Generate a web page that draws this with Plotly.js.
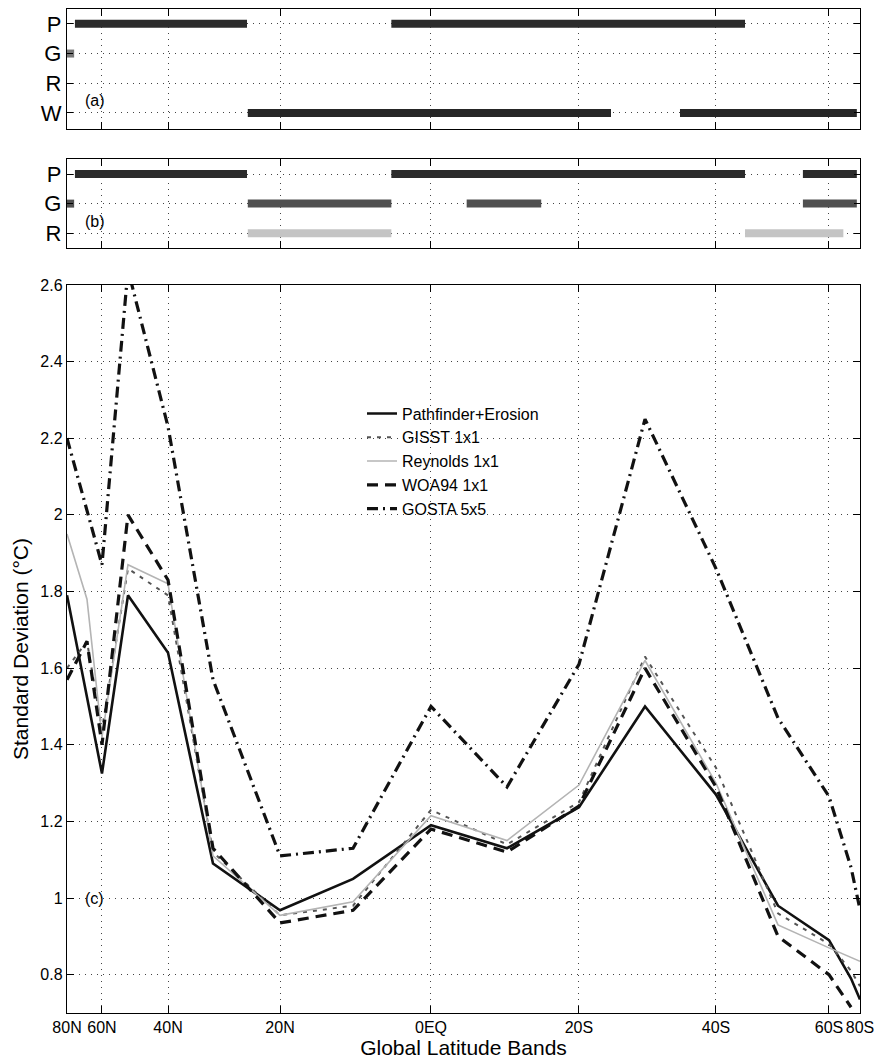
<!DOCTYPE html>
<html>
<head>
<meta charset="utf-8">
<script src="https://cdn.plot.ly/plotly-3.0.1.min.js"></script>
<style>html,body{margin:0;padding:0;background:#fff;}#chart{width:878px;height:1064px;}</style>
</head>
<body>
<div id="chart"></div>
<script>
// Latitude bands (x = cumulative ocean-area fraction from 80N)
const bandLabels = ['80N','70N','60N','50N','40N','30N','20N','10N','0EQ','10S','20S','30S','40S','50S','60S','70S','80S'];
const bandPos    = [0, 0.0252, 0.0441, 0.0769, 0.1274, 0.1841, 0.2686, 0.3607, 0.4590, 0.5549, 0.6456, 0.7289, 0.8184, 0.8966, 0.9609, 0.9887, 1.0];
const tickLabels = ['80N','60N','40N','20N','0EQ','20S','40S','60S','80S'];

// Panel (c) series: standard deviation (°C)
const pathfinder = [1.79, 1.53, 1.325, 1.79, 1.64, 1.09, 0.968, 1.05, 1.19, 1.13, 1.237, 1.50, 1.27, 0.98, 0.89, 0.79, 0.735];
const gisst      = [1.60, 1.67, 1.44, 1.86, 1.79, 1.12, 0.955, 0.98, 1.23, 1.14, 1.25, 1.63, 1.34, 0.96, 0.88, 0.81, 0.77];
const reynolds   = [1.95, 1.78, 1.42, 1.87, 1.82, 1.11, 0.955, 0.99, 1.215, 1.15, 1.295, 1.62, 1.30, 0.93, 0.87, 0.845, 0.835];
const woa94      = [1.57, 1.67, 1.40, 2.00, 1.83, 1.13, 0.935, 0.968, 1.18, 1.12, 1.24, 1.60, 1.29, 0.90, 0.80, 0.715, null];
const gosta      = [2.20, 2.01, 1.87, 2.64, 2.23, 1.57, 1.11, 1.13, 1.50, 1.29, 1.61, 2.25, 1.86, 1.47, 1.265, 1.08, 0.97];

// Panel (a) best-estimate segments (start, end in same x units)
const aRows = ['P','G','R','W'];
const aP = [[0.010, 0.227], [0.409, 0.855]];
const aG = [[0.0, 0.009]];
const aR = [];
const aW = [[0.228, 0.686], [0.773, 0.996]];

// Panel (b) segments
const bRows = ['P','G','R'];
const bP = [[0.010, 0.227], [0.409, 0.855], [0.928, 0.996]];
const bG = [[0.0, 0.009], [0.228, 0.409], [0.504, 0.598], [0.928, 0.996]];
const bR = [[0.228, 0.409], [0.855, 0.979]];

function segTrace(segs, row, color, xa, ya) {
  const x = [], y = [];
  segs.forEach(s => { x.push(s[0], s[1], null); y.push(row, row, null); });
  return {x, y, xaxis: xa, yaxis: ya, mode: 'lines', type: 'scatter',
          line: {color, width: 8}, showlegend: false, hoverinfo: 'skip'};
}

const tickPos = tickLabels.map(t => bandPos[bandLabels.indexOf(t)]);

const traces = [
  segTrace(aP, 1, '#2b2b2b', 'x2', 'y2'),
  segTrace(aG, 2, '#777777', 'x2', 'y2'),
  segTrace(aR, 3, '#c8c8c8', 'x2', 'y2'),
  segTrace(aW, 4, '#262626', 'x2', 'y2'),
  segTrace(bP, 1, '#2b2b2b', 'x3', 'y3'),
  segTrace(bG, 2, '#505050', 'x3', 'y3'),
  segTrace(bR, 3, '#c4c4c4', 'x3', 'y3'),
  {x: bandPos, y: pathfinder, name: 'Pathfinder+Erosion', mode: 'lines', type: 'scatter',
   line: {color: '#111', width: 2.6}},
  {x: bandPos, y: gisst, name: 'GISST 1x1', mode: 'lines', type: 'scatter',
   line: {color: '#555', width: 2, dash: '4px,6px'}},
  {x: bandPos, y: reynolds, name: 'Reynolds 1x1', mode: 'lines', type: 'scatter',
   line: {color: '#b4b4b4', width: 1.6}},
  {x: bandPos, y: woa94, name: 'WOA94 1x1', mode: 'lines', type: 'scatter',
   line: {color: '#111', width: 3.2, dash: '11px,7px'}},
  {x: bandPos, y: gosta, name: 'GOSTA 5x5', mode: 'lines', type: 'scatter',
   line: {color: '#111', width: 3.2, dash: '11px,5px,2px,5px'}}
];

const gridStyle = {showgrid: true, gridcolor: '#444', gridwidth: 1, griddash: '1px,5px'};
const frame = {showline: true, linecolor: '#000', linewidth: 1.2, mirror: 'ticks',
               ticks: 'inside', tickcolor: '#000', zeroline: false};

function xAx(anchor, showLabels) {
  return Object.assign({}, frame, gridStyle, {
    anchor, range: [0, 1], tickmode: 'array', tickvals: tickPos,
    ticktext: showLabels ? tickLabels : tickLabels.map(() => ''),
    showticklabels: showLabels, ticklen: 7, fixedrange: true
  });
}

const layout = {
  width: 878, height: 1064,
  margin: {l: 67, r: 18, t: 9, b: 51},
  paper_bgcolor: '#fff', plot_bgcolor: '#fff',
  font: {family: '"Liberation Sans", Arial, Helvetica, sans-serif', size: 16, color: '#000'},
  showlegend: true,
  legend: {x: 0.372, y: 0.614, xanchor: 'left', yanchor: 'top', bgcolor: 'rgba(255,255,255,0)',
           font: {size: 16}, tracegroupgap: 0, itemwidth: 30},
  xaxis: Object.assign(xAx('y', true), {
    title: {text: 'Global Latitude Bands', font: {size: 21}, standoff: 3},
    tickfont: {size: 16}
  }),
  yaxis: Object.assign({}, frame, gridStyle, {
    domain: [0, 0.7251], range: [0.7, 2.6], tickmode: 'array',
    tickvals: [0.8, 1, 1.2, 1.4, 1.6, 1.8, 2, 2.2, 2.4, 2.6],
    ticktext: ['0.8', '1', '1.2', '1.4', '1.6', '1.8', '2', '2.2', '2.4', '2.6'],
    ticklen: 7, tickfont: {size: 16},
    title: {text: 'Standard Deviation (°C)', font: {size: 21}, standoff: 6}
  }),
  xaxis2: xAx('y2', false),
  yaxis2: Object.assign({}, frame, gridStyle, {
    domain: [0.8805, 1], range: [4.54, 0.5], tickmode: 'array',
    tickvals: [1, 2, 3, 4], ticktext: aRows, ticklen: 6, tickfont: {size: 22}
  }),
  xaxis3: xAx('y3', false),
  yaxis3: Object.assign({}, frame, gridStyle, {
    domain: [0.762, 0.8506], range: [3.5, 0.49], tickmode: 'array',
    tickvals: [1, 2, 3], ticktext: bRows, ticklen: 6, tickfont: {size: 22}
  }),
  annotations: [
    {text: '(a)', xref: 'x2 domain', yref: 'y2 domain', x: 0.02, y: 0.24, xanchor: 'left', yanchor: 'middle', showarrow: false, font: {size: 16}},
    {text: '(b)', xref: 'x3 domain', yref: 'y3 domain', x: 0.02, y: 0.3, xanchor: 'left', yanchor: 'middle', showarrow: false, font: {size: 16}},
    {text: '(c)', xref: 'x domain', yref: 'y', x: 0.02, y: 1.0, xanchor: 'left', yanchor: 'middle', showarrow: false, font: {size: 16}}
  ]
};

Plotly.newPlot('chart', traces, layout, {staticPlot: true, displayModeBar: false});
</script>
</body>
</html>
